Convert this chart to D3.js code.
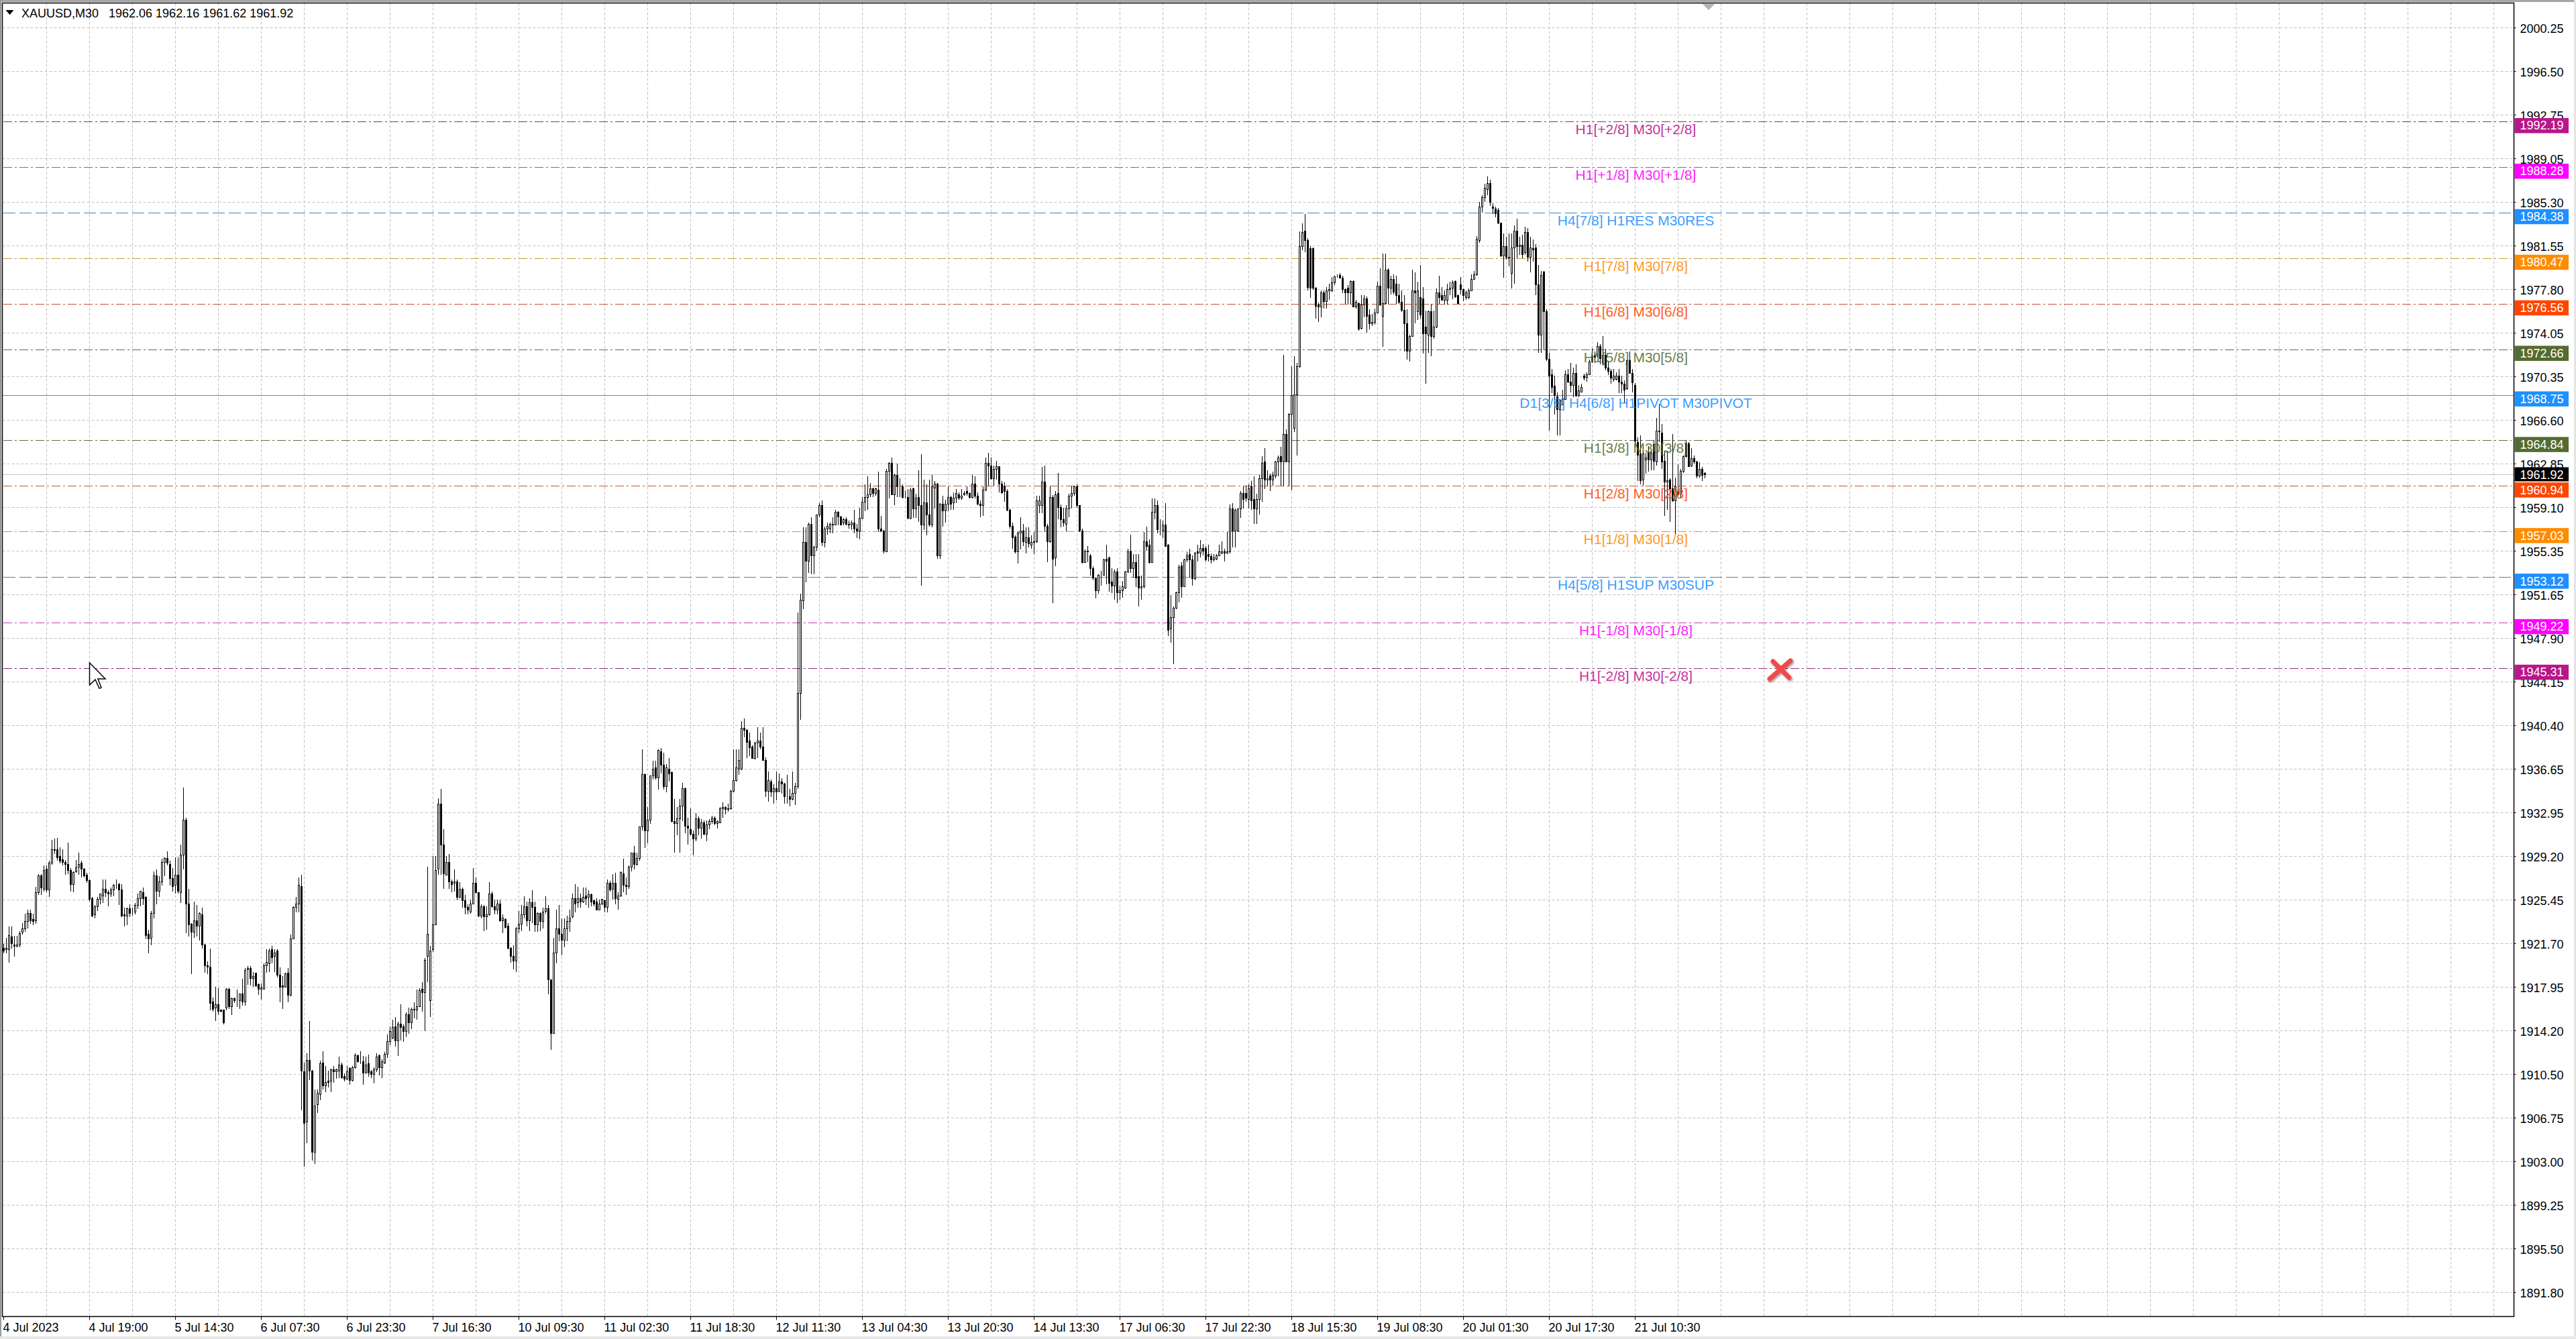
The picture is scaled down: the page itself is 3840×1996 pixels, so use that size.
<!DOCTYPE html>
<html>
<head>
<meta charset="utf-8">
<title>XAUUSD,M30</title>
<script src="https://cdn.jsdelivr.net/npm/d3@7/dist/d3.min.js"></script>
<style>
html,body{margin:0;padding:0;background:#fff;overflow:hidden}
svg{display:block}
text{font-family:"Liberation Sans",Arial,sans-serif}
</style>
</head>
<body>
<svg id="chart" width="3840" height="1996"></svg>
<script>
const symbolTitle = "XAUUSD,M30";
const titleOHLC = ["1962.06","1962.16","1961.62","1961.92"];
const priceTicks = ["2000.25","1996.50","1992.75","1989.05","1985.30","1981.55","1977.80","1974.05","1970.35","1966.60","1962.85","1959.10","1955.35","1951.65","1947.90","1944.15","1940.40","1936.65","1932.95","1929.20","1925.45","1921.70","1917.95","1914.20","1910.50","1906.75","1903.00","1899.25","1895.50","1891.80"];
const timeTicks = ["4 Jul 2023","4 Jul 19:00","5 Jul 14:30","6 Jul 07:30","6 Jul 23:30","7 Jul 16:30","10 Jul 09:30","11 Jul 02:30","11 Jul 18:30","12 Jul 11:30","13 Jul 04:30","13 Jul 20:30","14 Jul 13:30","17 Jul 06:30","17 Jul 22:30","18 Jul 15:30","19 Jul 08:30","20 Jul 01:30","20 Jul 17:30","21 Jul 10:30"];
const levelPrices = [1992.19,1988.28,1984.38,1980.47,1976.56,1972.66,1968.75,1964.84,1960.94,1957.03,1953.12,1949.22,1945.31];
const levelNames = ["H1[+2/8] M30[+2/8]","H1[+1/8] M30[+1/8]","H4[7/8] H1RES M30RES","H1[7/8] M30[7/8]","H1[6/8] M30[6/8]","H1[5/8] M30[5/8]","D1[3/8] H4[6/8] H1PIVOT M30PIVOT","H1[3/8] M30[3/8]","H1[2/8] M30[2/8]","H1[1/8] M30[1/8]","H4[5/8] H1SUP M30SUP","H1[-1/8] M30[-1/8]","H1[-2/8] M30[-2/8]"];
const levelKinds = ["mvr","mag","blue","orange","red","olive","pivot","olive","red","orange","blue","mag","mvr"];
const lastPrice = 1961.92;

const opens = [
1921.3,1921.2,1921.2,1922.3,1921.6,1921.5,1921.6,1922.7,1923.0,1923.6,
1924.3,1923.8,1923.7,1926.1,1927.5,1926.4,1928.1,1926.3,1928.6,1929.7,
1929.8,1929.2,1928.9,1928.7,1928.5,1928.0,1926.8,1927.9,1928.3,1928.6,
1928.1,1927.6,1927.1,1925.6,1924.2,1924.9,1925.5,1925.8,1926.4,1926.1,
1926.0,1926.3,1926.7,1926.8,1926.3,1924.2,1924.1,1924.7,1924.4,1924.4,
1925.0,1925.6,1926.1,1925.7,1922.5,1922.2,1924.3,1927.5,1926.2,1927.0,
1928.7,1929.0,1928.5,1927.3,1926.7,1927.6,1926.1,1929.3,1932.3,1925.1,
1923.4,1922.7,1923.7,1923.2,1924.2,1921.6,1919.8,1919.7,1916.7,1916.2,
1916.5,1916.0,1916.0,1916.2,1917.8,1916.3,1917.0,1916.8,1916.8,1917.4,
1916.7,1919.5,1919.6,1918.7,1919.2,1918.2,1917.8,1917.8,1919.8,1920.0,
1921.2,1920.6,1921.1,1919.0,1918.1,1918.0,1919.2,1917.3,1922.1,1924.8,
1925.1,1926.6,1910.7,1906.4,1911.7,1910.8,1903.8,1907.9,1908.8,1911.5,
1909.5,1909.9,1909.9,1910.9,1910.7,1910.8,1911.3,1910.3,1910.1,1911.0,
1910.0,1911.1,1912.1,1911.6,1911.6,1910.6,1911.4,1910.7,1910.5,1910.9,
1912.1,1911.1,1911.5,1912.2,1913.3,1913.6,1914.6,1913.4,1914.8,1914.6,
1914.2,1915.6,1914.9,1916.1,1916.0,1916.3,1917.8,1917.5,1920.6,1916.8,
1921.2,1923.3,1928.1,1933.7,1930.2,1927.6,1928.7,1927.0,1926.9,1927.0,
1925.7,1926.4,1925.4,1924.8,1924.4,1925.1,1926.9,1926.1,1924.1,1924.9,
1924.0,1924.2,1926.0,1924.9,1924.6,1925.1,1923.7,1923.8,1923.2,1921.3,
1920.6,1920.2,1923.0,1923.4,1924.2,1924.9,1923.7,1925.2,1924.8,1923.3,
1924.3,1923.6,1924.5,1924.7,1918.6,1914.0,1920.9,1923.0,1922.5,1922.0,
1923.0,1923.6,1924.0,1925.6,1925.2,1925.6,1925.3,1925.8,1925.7,1925.9,
1925.4,1925.3,1924.6,1925.1,1925.4,1924.8,1926.9,1926.4,1926.9,1925.5,
1925.8,1927.7,1926.7,1926.6,1928.3,1929.5,1928.5,1929.0,1931.7,1936.2,
1931.4,1932.3,1936.1,1936.8,1935.9,1938.2,1937.0,1935.2,1936.7,1936.4,
1932.2,1932.0,1932.4,1933.5,1935.0,1931.8,1931.5,1931.1,1930.7,1932.4,
1931.6,1932.1,1931.1,1931.9,1932.2,1932.5,1932.0,1932.1,1933.3,1933.4,
1933.3,1933.3,1934.8,1935.7,1936.7,1936.7,1940.2,1940.0,1939.1,1938.6,
1937.6,1938.9,1939.1,1938.6,1937.4,1934.8,1935.6,1934.7,1935.0,1934.8,
1935.6,1935.4,1934.3,1934.3,1934.1,1934.6,1935.2,1943.2,1951.1,1956.1,
1954.5,1957.7,1955.0,1955.7,1958.5,1959.3,1956.1,1957.3,1957.3,1957.7,
1957.6,1958.7,1958.3,1957.8,1958.1,1957.7,1957.6,1957.8,1957.3,1957.1,
1958.2,1959.6,1960.0,1960.2,1960.7,1960.3,1960.6,1957.3,1957.1,1955.3,
1962.2,1962.9,1960.2,1961.9,1960.9,1960.9,1960.0,1960.0,1958.2,1960.7,
1959.0,1960.0,1959.3,1957.6,1959.5,1958.5,1957.6,1960.8,1961.1,1955.0,
1959.4,1958.8,1959.4,1960.0,1959.5,1959.9,1960.2,1959.9,1960.2,1960.5,
1960.3,1960.0,1961.1,1960.1,1959.4,1959.3,1960.6,1962.9,1962.7,1961.6,
1962.4,1962.6,1961.1,1960.9,1960.5,1958.9,1957.5,1956.6,1955.3,1956.9,
1957.1,1956.1,1956.5,1955.9,1956.2,1956.2,1959.3,1959.3,1961.3,1957.5,
1956.2,1960.0,1954.8,1960.3,1959.1,1958.1,1957.7,1959.0,1960.1,1960.3,
1960.9,1959.3,1957.1,1954.4,1955.4,1955.0,1953.9,1953.1,1952.0,1953.3,
1953.3,1954.7,1954.8,1952.7,1952.4,1953.6,1951.8,1952.0,1952.2,1953.6,
1955.4,1953.9,1954.4,1953.2,1952.2,1952.3,1956.2,1955.9,1954.4,1958.7,
1959.3,1957.2,1957.1,1957.6,1955.9,1948.7,1949.7,1950.5,1951.8,1954.1,
1952.3,1954.6,1955.1,1954.6,1953.0,1955.3,1955.2,1955.6,1955.6,1955.1,
1954.9,1954.6,1954.7,1955.0,1955.2,1955.3,1955.2,1955.3,1959.0,1957.1,
1957.1,1959.0,1960.3,1960.3,1959.8,1960.9,1959.8,1959.0,1959.8,1961.6,
1963.0,1961.5,1961.8,1961.5,1961.8,1963.0,1963.5,1963.0,1965.4,1963.0,
1967.1,1965.9,1968.8,1971.2,1981.5,1982.8,1982.0,1981.3,1981.3,1977.9,
1976.5,1976.3,1977.5,1976.8,1977.7,1977.7,1978.4,1978.9,1979.0,1978.8,
1977.8,1977.9,1977.5,1978.5,1976.3,1976.6,1974.5,1976.5,1977.0,1975.6,
1974.9,1975.0,1975.8,1978.1,1975.5,1976.6,1979.5,1977.9,1978.7,1978.3,
1977.3,1976.7,1976.0,1974.9,1972.5,1973.8,1977.7,1975.9,1977.1,1977.0,
1974.6,1973.9,1975.9,1973.8,1974.6,1977.5,1977.3,1976.9,1976.9,1977.8,
1977.9,1978.5,1977.3,1978.2,1977.8,1977.1,1977.1,1977.7,1978.7,1979.1,
1982.0,1984.9,1985.7,1986.4,1986.9,1984.9,1984.7,1984.6,1983.5,1980.7,
1981.5,1980.6,1979.2,1981.4,1982.8,1981.5,1981.6,1981.0,1982.7,1980.6,
1981.3,1981.4,1978.2,1973.9,1979.3,1975.9,1971.8,1970.5,1969.5,1968.6,
1967.5,1967.9,1968.4,1970.5,1969.9,1969.6,1970.6,1968.7,1969.0,1970.4,
1970.3,1970.5,1971.6,1972.1,1972.1,1972.9,1971.5,1972.2,1971.1,1970.8,
1970.1,1970.1,1970.4,1969.9,1969.7,1969.3,1971.7,1970.6,1969.6,1964.7,
1963.7,1961.5,1963.2,1963.8,1963.2,1964.5,1963.0,1965.7,1965.5,1963.1,
1961.3,1961.5,1960.7,1959.7,1960.5,1960.3,1962.2,1964.6,1964.6,1962.7,
1963.3,1963.0,1961.8,1962.4,1962.06];

const closes = [
1921.1,1921.3,1922.4,1921.7,1921.5,1921.6,1922.6,1923.0,1923.6,1924.3,
1923.7,1923.6,1926.1,1927.5,1926.5,1928.0,1926.3,1928.6,1929.8,1929.8,
1929.1,1928.8,1928.7,1928.5,1928.0,1926.8,1927.8,1928.2,1928.5,1928.1,
1927.5,1927.1,1925.5,1924.1,1924.9,1925.5,1926.0,1926.4,1926.1,1926.0,
1926.3,1926.7,1926.7,1926.3,1924.1,1924.1,1924.7,1924.3,1924.4,1925.0,
1925.6,1926.2,1925.6,1922.4,1922.1,1924.3,1927.5,1926.2,1927.0,1928.7,
1929.0,1928.6,1927.3,1926.6,1927.6,1926.2,1929.3,1932.3,1925.1,1923.3,
1922.7,1923.7,1923.2,1924.3,1921.6,1919.8,1919.7,1916.6,1916.1,1916.5,
1915.9,1915.9,1914.9,1917.8,1916.3,1917.0,1916.8,1916.8,1917.4,1916.7,
1919.4,1919.6,1918.7,1918.9,1918.1,1917.8,1917.9,1919.8,1920.1,1921.1,
1920.5,1920.9,1919.0,1918.0,1918.0,1919.1,1917.3,1922.1,1924.8,1925.1,
1926.7,1910.8,1906.3,1911.7,1910.8,1903.8,1907.8,1908.9,1911.4,1909.5,
1909.8,1909.8,1910.9,1910.7,1910.9,1911.3,1910.2,1910.1,1910.7,1910.0,
1911.1,1912.1,1911.6,1911.6,1910.6,1911.3,1910.6,1910.5,1910.9,1912.0,
1911.1,1911.6,1912.2,1913.3,1914.2,1914.5,1913.4,1914.8,1914.5,1914.2,
1915.6,1914.9,1916.1,1916.0,1916.3,1917.7,1917.5,1920.3,1922.5,1921.1,
1923.3,1928.0,1933.7,1930.2,1927.7,1928.7,1927.0,1926.8,1927.0,1925.7,
1926.4,1925.4,1924.8,1924.6,1925.1,1926.9,1926.1,1924.1,1924.9,1924.0,
1924.2,1926.0,1924.9,1924.6,1925.1,1923.7,1923.9,1923.1,1921.3,1920.6,
1920.2,1923.0,1923.4,1924.2,1924.9,1923.7,1925.2,1924.8,1923.3,1924.3,
1923.6,1924.4,1924.7,1918.6,1914.0,1920.9,1923.0,1922.5,1922.0,1923.0,
1923.6,1923.9,1925.6,1925.1,1925.6,1925.3,1925.7,1925.6,1925.9,1925.3,
1925.1,1924.6,1925.1,1925.5,1924.8,1926.9,1926.3,1926.9,1925.6,1925.8,
1927.8,1926.7,1926.6,1928.3,1929.5,1928.5,1929.0,1931.7,1936.2,1931.4,
1932.3,1936.1,1936.7,1935.9,1938.3,1937.0,1935.2,1936.8,1936.3,1932.2,
1932.0,1932.4,1933.5,1935.0,1931.8,1931.6,1931.1,1930.7,1932.4,1931.6,
1932.1,1931.1,1931.9,1932.2,1932.5,1932.0,1932.2,1933.3,1933.4,1933.2,
1933.2,1934.8,1935.7,1936.8,1937.4,1940.2,1940.0,1939.0,1938.5,1937.6,
1938.9,1939.1,1938.6,1937.4,1934.8,1935.7,1934.7,1935.0,1934.7,1935.6,
1935.4,1934.3,1934.3,1934.1,1934.6,1935.2,1943.2,1951.2,1956.1,1954.5,
1957.7,1955.0,1955.7,1958.5,1959.3,1956.1,1957.3,1957.5,1957.7,1957.6,
1958.7,1958.3,1957.6,1958.1,1957.7,1957.6,1957.8,1957.3,1957.1,1958.2,
1959.6,1960.0,1960.2,1960.7,1960.3,1960.7,1957.3,1957.1,1955.4,1962.2,
1962.9,1960.2,1961.9,1960.9,1960.9,1960.0,1960.0,1958.2,1960.6,1959.0,
1959.9,1959.3,1957.6,1959.5,1958.5,1957.6,1960.9,1961.1,1955.0,1959.4,
1958.8,1959.4,1960.0,1959.4,1959.9,1960.3,1959.9,1960.1,1960.3,1960.3,
1960.0,1961.1,1960.1,1959.4,1959.3,1960.6,1962.9,1962.7,1961.6,1962.4,
1962.6,1961.1,1960.4,1960.5,1958.9,1957.5,1956.5,1955.3,1956.9,1957.1,
1956.2,1956.5,1956.0,1956.1,1956.1,1959.7,1959.7,1961.3,1957.5,1956.2,
1960.0,1954.7,1960.2,1959.1,1958.1,1957.8,1959.0,1960.1,1960.3,1960.9,
1959.3,1957.1,1954.4,1955.4,1955.3,1953.9,1953.1,1952.0,1953.3,1953.3,
1954.6,1954.5,1952.6,1952.4,1953.6,1951.8,1952.0,1952.3,1953.6,1955.3,
1953.9,1954.4,1953.1,1952.2,1952.3,1956.2,1955.8,1954.4,1958.7,1959.3,
1957.2,1957.2,1957.6,1955.8,1948.6,1949.7,1950.5,1951.8,1954.0,1952.3,
1954.6,1955.0,1954.6,1953.0,1955.2,1955.2,1955.6,1955.4,1954.6,1954.9,
1954.6,1954.8,1955.0,1955.3,1955.3,1955.2,1955.3,1959.0,1957.1,1958.9,
1959.0,1960.3,1959.8,1959.9,1960.7,1959.7,1959.0,1959.8,1961.6,1962.9,
1961.5,1961.6,1961.5,1961.9,1963.0,1963.4,1963.0,1965.4,1963.0,1967.1,
1968.7,1968.8,1971.2,1981.5,1982.7,1982.0,1978.0,1977.9,1977.9,1976.4,
1976.3,1977.5,1976.8,1977.7,1977.8,1978.4,1978.9,1978.9,1978.8,1977.8,
1977.5,1977.5,1978.5,1976.3,1976.7,1974.4,1976.5,1977.0,1975.5,1974.9,
1975.0,1975.8,1978.1,1976.5,1976.6,1979.5,1977.9,1978.7,1977.6,1977.3,
1976.7,1976.0,1974.9,1972.5,1973.8,1977.7,1977.5,1977.7,1975.6,1974.0,
1974.0,1975.9,1973.8,1974.6,1977.5,1977.1,1976.9,1977.3,1977.8,1977.9,
1978.4,1977.2,1976.6,1977.8,1977.3,1977.5,1977.7,1978.7,1979.1,1982.1,
1984.9,1985.7,1986.5,1986.9,1985.3,1984.8,1984.3,1983.5,1980.7,1981.5,
1980.6,1980.5,1981.4,1982.8,1981.5,1981.6,1980.8,1982.7,1980.6,1981.4,
1981.2,1978.2,1973.9,1979.0,1975.9,1971.8,1970.4,1969.4,1968.7,1967.5,
1968.3,1968.4,1970.5,1969.9,1969.6,1970.6,1968.7,1969.1,1969.4,1970.2,
1970.5,1971.6,1972.1,1972.0,1972.9,1971.9,1972.2,1971.1,1970.8,1970.2,
1970.4,1970.4,1969.9,1969.7,1969.2,1971.7,1970.6,1969.8,1964.8,1963.6,
1961.4,1963.7,1963.4,1963.2,1963.8,1963.1,1965.7,1965.6,1963.0,1961.3,
1961.4,1960.7,1959.7,1960.9,1960.2,1962.2,1963.5,1963.5,1962.6,1963.3,
1963.0,1961.8,1962.4,1961.9,1961.92];

const highs = [
1921.7,1922.2,1923.2,1923.2,1922.4,1922.4,1922.8,1923.5,1924.3,1924.6,
1924.6,1924.3,1926.6,1927.7,1927.7,1928.4,1928.4,1928.8,1930.6,1930.7,
1930.8,1930.0,1929.8,1928.9,1930.4,1928.2,1927.9,1928.9,1929.5,1928.8,
1928.2,1927.8,1927.2,1925.7,1925.0,1925.7,1926.0,1927.2,1927.2,1926.3,
1926.5,1926.8,1927.2,1926.9,1926.8,1924.8,1924.8,1925.1,1924.8,1925.2,
1926.0,1926.2,1926.5,1925.8,1922.9,1924.5,1927.9,1928.1,1927.5,1929.0,
1929.1,1929.6,1928.8,1928.2,1929.1,1929.1,1930.2,1935.1,1932.5,1926.4,
1923.5,1925.3,1925.0,1924.4,1924.8,1921.7,1920.2,1921.3,1917.1,1918.0,
1917.9,1916.0,1916.0,1917.9,1917.9,1917.1,1917.1,1917.8,1917.4,1918.7,
1919.6,1919.8,1919.8,1919.3,1919.2,1918.3,1918.3,1920.0,1921.2,1921.3,
1921.5,1921.2,1921.2,1919.7,1918.9,1919.2,1919.6,1922.5,1924.9,1925.7,
1927.4,1927.6,1911.5,1912.3,1915.1,1910.9,1909.2,1909.2,1911.7,1912.5,
1911.2,1910.8,1911.0,1911.2,1911.0,1912.0,1911.5,1910.6,1911.2,1911.1,
1911.2,1912.3,1912.2,1912.5,1912.1,1912.0,1912.2,1910.9,1911.1,1912.3,
1912.2,1911.8,1912.4,1913.9,1914.6,1915.2,1915.4,1915.0,1916.5,1914.8,
1915.8,1916.2,1916.2,1916.7,1917.8,1917.9,1918.4,1920.5,1928.3,1921.5,
1929.2,1929.2,1934.2,1935.0,1931.5,1929.2,1929.4,1927.2,1928.1,1927.2,
1927.0,1926.5,1925.9,1925.1,1925.5,1928.2,1927.4,1926.1,1925.1,1925.0,
1924.9,1927.0,1926.2,1925.5,1925.5,1925.5,1924.2,1923.9,1923.5,1921.4,
1921.6,1923.1,1924.5,1925.0,1925.8,1925.3,1925.6,1926.3,1925.3,1924.4,
1924.4,1924.8,1925.8,1925.0,1918.6,1922.2,1924.6,1925.0,1923.9,1923.9,
1924.1,1924.6,1926.0,1926.8,1926.6,1926.0,1926.5,1926.5,1926.3,1926.0,
1925.5,1925.6,1925.5,1925.5,1925.5,1927.2,1927.1,1927.7,1927.8,1926.1,
1927.9,1929.0,1927.4,1928.4,1929.5,1930.1,1929.5,1931.7,1938.4,1936.3,
1933.4,1936.1,1937.4,1937.4,1938.4,1938.5,1938.1,1937.1,1937.6,1936.5,
1934.1,1933.4,1934.1,1935.5,1935.1,1932.5,1933.3,1931.4,1932.9,1932.6,
1932.4,1932.3,1932.3,1932.4,1932.7,1932.6,1932.3,1933.4,1933.8,1933.5,
1933.7,1934.9,1938.4,1938.4,1938.4,1940.8,1941.0,1940.1,1939.8,1938.7,
1939.0,1940.3,1939.8,1940.3,1937.7,1936.5,1935.8,1935.4,1936.5,1936.3,
1935.9,1935.5,1936.2,1935.0,1936.5,1935.5,1950.1,1951.7,1957.4,1957.4,
1957.8,1958.3,1955.8,1958.5,1959.5,1959.7,1957.5,1957.8,1957.8,1958.3,
1958.9,1958.8,1958.4,1958.2,1958.3,1958.0,1958.0,1958.9,1957.7,1959.1,
1960.0,1961.1,1961.8,1961.2,1960.8,1960.8,1962.2,1958.4,1957.2,1962.4,
1963.0,1963.4,1962.0,1962.9,1961.6,1961.1,1960.6,1960.7,1960.8,1960.8,
1960.3,1962.3,1963.7,1961.5,1961.1,1961.5,1961.9,1961.4,1961.2,1959.5,
1960.1,1959.8,1960.9,1960.1,1960.4,1960.7,1960.4,1960.7,1960.5,1960.9,
1960.4,1961.9,1961.8,1960.4,1959.7,1960.9,1963.4,1963.8,1963.4,1962.7,
1963.1,1962.6,1961.4,1961.3,1960.7,1959.0,1957.8,1956.7,1957.1,1958.3,
1957.7,1957.4,1957.4,1956.7,1957.0,1960.1,1960.1,1962.6,1962.7,1957.7,
1960.9,1960.2,1960.5,1962.1,1959.4,1959.1,1959.3,1960.3,1960.9,1961.0,
1961.1,1959.3,1957.3,1955.5,1955.8,1955.1,1954.1,1953.1,1953.4,1953.7,
1954.7,1955.9,1954.9,1953.9,1953.8,1953.9,1952.4,1952.8,1953.7,1955.6,
1956.8,1955.1,1955.1,1955.1,1953.3,1957.0,1957.5,1956.4,1959.9,1959.9,
1959.7,1958.1,1958.0,1959.5,1956.0,1951.6,1950.6,1951.9,1954.2,1954.4,
1954.7,1955.3,1955.6,1955.0,1955.3,1955.9,1956.3,1956.0,1955.8,1955.9,
1955.2,1955.1,1955.1,1955.9,1956.2,1955.6,1957.0,1959.4,1959.5,1959.0,
1959.0,1960.5,1960.9,1961.0,1961.1,1961.4,1961.8,1960.3,1961.9,1963.5,
1964.2,1962.3,1962.0,1962.2,1963.1,1963.6,1964.3,1972.2,1965.8,1967.2,
1971.2,1972.1,1971.5,1982.8,1983.5,1984.3,1982.2,1981.5,1981.4,1978.0,
1976.7,1977.7,1977.7,1978.0,1978.3,1978.9,1979.0,1979.1,1979.2,1979.0,
1977.9,1978.2,1978.6,1978.6,1976.9,1976.7,1977.3,1977.3,1977.2,1976.1,
1975.7,1976.2,1978.5,1979.6,1980.9,1980.9,1979.6,1979.0,1979.1,1979.0,
1978.3,1977.7,1977.3,1976.1,1973.9,1979.5,1979.3,1978.5,1979.9,1978.0,
1976.0,1976.0,1976.6,1976.0,1977.9,1979.0,1978.0,1977.7,1978.3,1978.5,
1978.6,1978.6,1977.4,1978.9,1977.9,1977.7,1977.9,1979.1,1979.4,1982.4,
1985.3,1985.9,1986.9,1987.5,1987.2,1985.2,1984.9,1984.8,1983.5,1982.6,
1982.3,1982.6,1982.6,1983.3,1983.9,1982.3,1982.5,1983.2,1983.1,1982.3,
1982.1,1981.7,1979.9,1979.4,1979.4,1976.1,1972.4,1971.0,1970.4,1969.0,
1968.4,1969.2,1970.9,1971.0,1971.5,1971.1,1971.4,1969.6,1969.7,1970.6,
1970.7,1971.8,1972.8,1972.5,1973.3,1973.1,1973.8,1972.7,1971.7,1971.0,
1971.0,1970.7,1971.0,1970.4,1970.0,1971.8,1972.5,1971.0,1969.8,1965.1,
1965.3,1963.9,1963.8,1964.4,1963.9,1964.9,1966.8,1968.0,1966.3,1964.0,
1964.0,1961.6,1965.4,1961.7,1962.8,1962.4,1963.6,1964.9,1964.7,1964.2,
1963.6,1963.1,1963.0,1962.6,1962.16];

const lows = [
1920.9,1920.9,1920.1,1921.3,1920.6,1921.4,1921.4,1922.5,1922.7,1923.0,
1923.4,1923.3,1923.4,1925.9,1925.9,1926.2,1926.1,1925.7,1928.5,1929.4,
1928.8,1928.6,1928.4,1927.6,1927.7,1926.2,1926.1,1927.8,1927.6,1927.4,
1927.4,1926.9,1925.3,1924.0,1923.9,1924.5,1925.1,1925.2,1925.7,1924.9,
1925.7,1925.8,1926.4,1925.0,1924.0,1923.2,1923.3,1924.0,1924.1,1924.2,
1924.7,1924.9,1925.0,1922.1,1920.9,1921.6,1923.9,1925.1,1925.7,1926.7,
1927.5,1928.4,1926.7,1926.2,1926.0,1926.0,1925.2,1928.1,1922.6,1922.3,
1919.1,1922.2,1922.3,1922.0,1921.3,1919.2,1919.1,1916.0,1915.9,1915.1,
1915.6,1915.8,1914.8,1916.0,1916.1,1915.6,1916.6,1916.3,1916.1,1916.4,
1916.4,1918.2,1918.1,1918.0,1918.0,1917.3,1916.9,1917.8,1919.2,1919.3,
1920.0,1919.3,1918.8,1916.7,1916.1,1918.0,1916.7,1917.2,1922.1,1924.4,
1924.4,1907.4,1902.6,1904.6,1910.0,1903.1,1902.8,1907.2,1908.3,1909.2,
1909.0,1909.4,1909.0,1909.8,1910.1,1910.2,1910.1,1909.9,1910.0,1909.6,
1909.9,1911.0,1911.5,1911.4,1909.6,1910.6,1910.3,1910.2,1909.7,1910.7,
1910.4,1910.2,1911.4,1911.9,1913.0,1913.5,1912.9,1912.1,1913.4,1913.3,
1913.7,1914.0,1914.4,1915.3,1915.2,1916.3,1915.9,1914.2,1918.4,1915.4,
1921.0,1923.3,1927.6,1927.6,1926.4,1927.6,1926.4,1926.1,1926.2,1925.4,
1925.6,1924.8,1924.2,1924.2,1924.3,1925.1,1926.0,1924.0,1923.9,1922.8,
1922.9,1924.1,1924.8,1924.2,1924.2,1923.6,1922.6,1923.0,1921.2,1920.1,
1919.5,1919.3,1922.6,1922.8,1923.9,1923.2,1922.8,1923.5,1922.7,1922.7,
1922.8,1923.0,1924.3,1917.4,1912.6,1914.0,1920.0,1921.9,1920.7,1921.4,
1921.9,1922.7,1923.9,1924.4,1924.8,1924.8,1925.2,1925.0,1924.8,1924.9,
1924.9,1924.6,1924.6,1925.0,1924.4,1924.4,1926.2,1925.5,1925.1,1924.6,
1925.7,1926.1,1925.9,1926.4,1927.9,1928.1,1928.4,1928.8,1931.4,1929.9,
1930.3,1932.0,1935.8,1935.8,1934.9,1936.3,1934.9,1934.7,1935.6,1932.1,
1929.5,1931.0,1929.5,1932.2,1931.2,1930.2,1931.0,1929.3,1930.5,1931.0,
1930.7,1931.0,1930.5,1931.5,1932.0,1931.9,1931.6,1932.1,1932.5,1932.8,
1933.0,1933.2,1934.7,1935.6,1936.2,1936.6,1939.4,1937.6,1937.8,1937.6,
1937.5,1937.6,1938.4,1937.4,1934.3,1933.9,1934.3,1933.7,1934.0,1934.7,
1934.6,1933.7,1933.7,1933.5,1934.0,1933.6,1935.0,1940.9,1950.4,1952.7,
1953.5,1953.4,1953.4,1955.4,1958.3,1955.8,1955.7,1956.8,1956.9,1956.9,
1957.6,1957.6,1957.6,1957.6,1957.6,1957.3,1957.2,1956.9,1956.5,1956.4,
1958.1,1958.8,1958.9,1960.0,1960.0,1960.1,1957.1,1957.0,1955.2,1955.3,
1959.9,1960.2,1959.3,1960.0,1960.0,1959.9,1959.9,1958.1,1958.1,1958.2,
1958.2,1957.9,1952.4,1957.2,1956.7,1957.5,1957.4,1959.0,1954.7,1954.7,
1957.5,1957.8,1958.8,1958.9,1958.9,1959.5,1959.8,1959.8,1960.1,1960.1,
1959.9,1959.9,1959.9,1959.3,1958.3,1958.4,1960.5,1961.0,1961.5,1961.0,
1961.5,1960.4,1960.3,1959.6,1958.8,1957.3,1955.6,1955.2,1954.3,1955.5,
1955.8,1955.2,1955.7,1955.6,1955.1,1956.1,1958.6,1958.6,1957.0,1954.4,
1956.1,1950.9,1954.1,1958.1,1957.4,1957.5,1957.1,1958.3,1959.0,1960.1,
1959.1,1957.0,1954.3,1954.4,1954.4,1953.3,1952.9,1951.3,1951.7,1952.4,
1953.3,1952.5,1951.9,1951.8,1951.2,1950.9,1951.2,1951.4,1952.1,1953.5,
1953.5,1953.1,1952.3,1950.6,1951.2,1952.2,1955.4,1954.3,1954.4,1958.1,
1956.9,1956.7,1956.5,1955.8,1948.1,1947.5,1945.7,1950.4,1951.0,1951.4,
1952.3,1954.4,1953.1,1952.4,1952.9,1954.5,1954.8,1955.0,1954.5,1954.5,
1954.3,1954.5,1954.6,1955.0,1955.1,1954.5,1955.1,1955.2,1955.7,1955.7,
1957.0,1958.2,1959.0,1959.6,1959.0,1958.9,1957.7,1957.7,1958.5,1959.6,
1960.7,1960.9,1960.5,1961.0,1961.6,1961.8,1961.0,1960.9,1963.0,1960.9,
1960.6,1965.6,1963.6,1971.1,1981.2,1981.0,1977.7,1977.1,1977.8,1975.3,
1975.0,1975.4,1976.2,1976.2,1976.9,1977.6,1978.2,1978.8,1978.8,1977.5,
1976.6,1976.6,1976.5,1976.3,1976.2,1974.3,1974.4,1975.4,1974.1,1974.4,
1974.7,1974.8,1975.8,1976.4,1972.9,1976.5,1976.6,1977.4,1977.4,1976.6,
1976.6,1975.9,1972.5,1971.8,1971.6,1973.8,1974.9,1975.2,1975.3,1972.3,
1969.7,1972.4,1972.1,1973.6,1974.5,1976.6,1976.9,1976.5,1976.5,1977.3,
1977.0,1977.1,1976.6,1977.4,1976.8,1976.9,1977.0,1977.8,1978.7,1979.0,
1981.8,1984.4,1985.3,1985.9,1985.0,1984.3,1984.0,1983.4,1980.6,1978.8,
1980.4,1979.8,1977.9,1978.3,1980.5,1980.8,1980.5,1980.8,1980.2,1979.3,
1980.2,1977.3,1972.4,1972.4,1972.6,1971.7,1965.7,1968.9,1967.1,1965.3,
1965.3,1967.9,1968.4,1969.8,1969.0,1968.6,1968.6,1968.6,1969.0,1970.0,
1969.9,1970.5,1971.5,1971.5,1972.0,1971.4,1971.3,1970.9,1970.5,1969.7,
1969.9,1970.0,1968.9,1968.9,1968.1,1969.2,1970.6,1969.0,1964.2,1961.4,
1961.1,1961.0,1962.0,1962.2,1962.3,1962.3,1962.7,1964.7,1962.4,1958.4,
1958.9,1957.9,1959.6,1956.8,1960.1,1959.9,1962.1,1963.4,1962.6,1962.6,
1962.9,1961.6,1961.7,1961.4,1961.62];

// ---- layout & style ----
const W = 3840, H = 1996;
const plot = {left: 3.5, top: 4.5, right: 3747.5, bottom: 1962.5};
const kindStyle = {
  mvr:    {color:"#B8168A", line:"#8E2A7C", dash:"13 4 3 4"},
  mag:    {color:"#FF00FF", line:"#C23CC2", dash:"13 4 3 4"},
  blue:   {color:"#1E90FF", line:"#3A86C8", dash:"18 6"},
  orange: {color:"#FF8C00", line:"#CC983E", dash:"13 4 3 4"},
  red:    {color:"#FF4500", line:"#C25530", dash:"13 4 3 4"},
  olive:  {color:"#556B2F", line:"#5F6B42", dash:"13 4 3 4"},
  pivot:  {color:"#1E90FF", line:"#3A90DC", dash:null}
};
const gridColor = "#c0c0c0";

const svg = d3.select("#chart");
const px = v => Math.round(v - 0.5) + 0.5;

const y = d3.scaleLinear().domain([2000.25, 1891.80]).range([41.5, 41.5 + 65 * 29]);
const tickY = d3.scalePoint().domain(priceTicks).range([41.5, 41.5 + 65 * 29]);
const x = d3.scaleLinear().domain([0, 634]).range([5.5, 2541.5]);
const timeX = d3.scalePoint().domain(timeTicks).range([5.5, 5.5 + 128 * 19]);
const gridXs = d3.range(69.5, plot.right, 64);

// window chrome
svg.append("rect").attr("width", W).attr("height", H).attr("fill", "#fff");
svg.append("rect").attr("width", W).attr("height", 3).attr("fill", "#a6a6a6");
svg.append("rect").attr("width", 2).attr("height", H).attr("fill", "#9a9a9a");
svg.append("rect").attr("x", W - 3).attr("width", 3).attr("height", H).attr("fill", "#e4e4e4");
svg.append("rect").attr("y", H - 4).attr("width", W).attr("height", 4).attr("fill", "#e8e8e8");

// grid
const grid = svg.append("g").attr("stroke", gridColor).attr("stroke-width", 1).attr("stroke-dasharray", "4 3");
grid.selectAll("line.h").data(priceTicks).join("line").attr("class", "h")
  .attr("x1", plot.left).attr("x2", plot.right)
  .attr("y1", d => tickY(d)).attr("y2", d => tickY(d));
grid.selectAll("line.v").data(gridXs).join("line").attr("class", "v")
  .attr("x1", d => d).attr("x2", d => d)
  .attr("y1", plot.top).attr("y2", plot.bottom);

// level lines
const levels = levelPrices.map((p, i) => ({price: p, name: levelNames[i], style: kindStyle[levelKinds[i]]}));
svg.append("line").attr("x1", plot.left).attr("x2", plot.right)
  .attr("y1", px(y(lastPrice))).attr("y2", px(y(lastPrice)))
  .attr("stroke", "#c0c0c0").attr("stroke-width", 1);
svg.append("g").selectAll("line").data(levels).join("line")
  .attr("x1", d => d.style.dash ? 5 : plot.left).attr("x2", d => d.style.dash ? 3744 : plot.right)
  .attr("y1", d => px(y(d.price))).attr("y2", d => px(y(d.price)))
  .attr("stroke", d => d.style.line).attr("stroke-width", 1)
  .attr("stroke-dasharray", d => d.style.dash);

// candles
const candles = opens.map((o, i) => ({i, o, h: highs[i], l: lows[i], c: closes[i]}));
const gCandles = svg.append("g").attr("shape-rendering", "crispEdges");
gCandles.selectAll("line").data(candles).join("line")
  .attr("x1", d => x(d.i)).attr("x2", d => x(d.i))
  .attr("y1", d => y(d.h)).attr("y2", d => y(d.l))
  .attr("stroke", "#000").attr("stroke-width", 1);
gCandles.selectAll("rect").data(candles).join("rect")
  .attr("x", d => x(d.i) - 1).attr("width", 2)
  .attr("y", d => y(Math.max(d.o, d.c)))
  .attr("height", d => Math.max(0, y(Math.min(d.o, d.c)) - y(Math.max(d.o, d.c))))
  .attr("fill", d => d.c > d.o ? "#fff" : "#000")
  .attr("stroke", "#000").attr("stroke-width", 1);

// level captions
svg.append("g").attr("text-anchor", "middle").style("font-size", "21px")
  .selectAll("text").data(levels).join("text")
  .attr("x", 2438.5).attr("y", d => y(d.price) + 18.5)
  .attr("fill", d => d.style.color).attr("fill-opacity", 0.9)
  .text(d => d.name);

// frame
svg.append("rect").attr("x", plot.left).attr("y", plot.top)
  .attr("width", plot.right - plot.left).attr("height", plot.bottom - plot.top)
  .attr("fill", "none").attr("stroke", "#000").attr("stroke-width", 1.5);

// price axis
const axisFont = "18px";
const gy = svg.append("g").style("font-size", axisFont);
gy.selectAll("line").data(priceTicks).join("line")
  .attr("x1", plot.right).attr("x2", plot.right + 3)
  .attr("y1", d => tickY(d)).attr("y2", d => tickY(d)).attr("stroke", "#000");
gy.selectAll("text").data(priceTicks).join("text")
  .attr("x", 3756.5).attr("y", d => tickY(d) + 7).attr("fill", "#000").text(d => d);

// price tags
const tags = levels.map(d => ({price: d.price, color: d.style.color, top: y(d.price) - 5.6, h: 22.5}));
tags.push({price: lastPrice, color: "#000", top: y(lastPrice) - 11.2, h: 21});
const gTags = svg.append("g").style("font-size", axisFont);
gTags.selectAll("rect").data(tags).join("rect")
  .attr("x", 3748.5).attr("width", 80.5).attr("y", d => d.top).attr("height", d => d.h)
  .attr("fill", d => d.color);
gTags.selectAll("text").data(tags).join("text")
  .attr("x", 3756.5).attr("y", d => d.top + 17.5).attr("fill", "#fff")
  .text(d => d3.format(".2f")(d.price));

// time axis
const gx = svg.append("g").style("font-size", axisFont);
gx.selectAll("line").data(timeTicks).join("line")
  .attr("x1", d => timeX(d)).attr("x2", d => timeX(d))
  .attr("y1", plot.bottom).attr("y2", plot.bottom + 5).attr("stroke", "#000");
gx.selectAll("text").data(timeTicks).join("text")
  .attr("x", d => timeX(d) - 1).attr("y", 1985).attr("fill", "#000").text(d => d);

// title
svg.append("path").attr("d", "M8.5 15H20.5L14.5 22Z").attr("fill", "#000");
svg.append("text").attr("x", 32).attr("y", 26).style("font-size", axisFont).attr("fill", "#000")
  .attr("xml:space", "preserve").text(symbolTitle + "\u00A0\u00A0\u00A0" + titleOHLC.join(" "));

// chart-shift marker
svg.append("path").attr("d", "M2537 5H2557L2547 15Z").attr("fill", "#b4b4b4");

// mouse pointer
svg.append("path")
  .attr("d", "M133.5 988V1021L142 1013L148 1026L151 1025L146 1012H157Z")
  .attr("fill", "#fff").attr("stroke", "#000").attr("stroke-width", 1.5).attr("stroke-linejoin", "miter");

// stop cross
const defs = svg.append("defs");
const f = defs.append("filter").attr("id", "xshadow").attr("x", "-30%").attr("y", "-30%").attr("width", "160%").attr("height", "160%");
f.append("feDropShadow").attr("dx", 1.5).attr("dy", 2).attr("stdDeviation", 1.5).attr("flood-color", "#000").attr("flood-opacity", 0.4);
svg.append("path")
  .attr("d", "M2643 986L2667 1010M2669 985L2638 1012")
  .attr("stroke", "#F04848").attr("stroke-width", 7).attr("stroke-linecap", "round")
  .attr("fill", "none").attr("filter", "url(#xshadow)");
</script>
</body>
</html>
